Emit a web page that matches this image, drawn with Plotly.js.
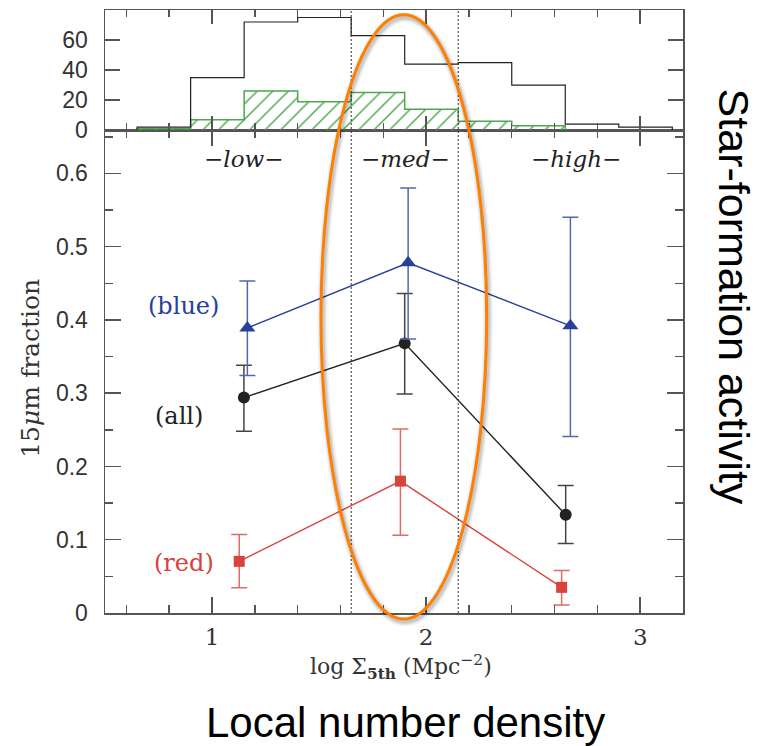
<!DOCTYPE html>
<html>
<head>
<meta charset="utf-8">
<script src="https://cdn.plot.ly/plotly-3.0.1.min.js"></script>
<style>
  html, body { margin: 0; padding: 0; background: #fff; }
  #chart { width: 759px; height: 746px; }
</style>
</head>
<body>
<div id="chart"></div>
<script>
// Histogram of galaxies per density bin (bin edges in log Sigma_5th)
const binEdges = [0.65, 0.90, 1.15, 1.40, 1.65, 1.90, 2.15, 2.40, 2.65, 2.90, 3.15];
const allCounts = [2, 35, 72, 75, 63, 44, 45, 30, 4, 2];
const detectedCounts = [1, 7, 26, 19, 25, 14, 6, 3];

// Density class boundaries and labels
const classEdges = [1.65, 2.15];
const classLabels = ["\u2212low\u2212", "\u2212med\u2212", "\u2212high\u2212"];
const classLabelX = [1.149, 1.905, 2.70];

// 15 micron fractions: x position, value, upper and lower error bounds
const blueX = [1.165, 1.916, 2.674];
const blueY = [0.389, 0.478, 0.392];
const blueHi = [0.453, 0.580, 0.540];
const blueLo = [0.324, 0.374, 0.241];

const allX = [1.149, 1.900, 2.652];
const allY = [0.294, 0.368, 0.134];
const allHi = [0.338, 0.436, 0.174];
const allLo = [0.248, 0.299, 0.095];

const redX = [1.127, 1.880, 2.633];
const redY = [0.0705, 0.180, 0.035];
const redHi = [0.107, 0.251, 0.058];
const redLo = [0.0345, 0.106, 0.011];

// Tick labels
const fracTicks = [0, 0.1, 0.2, 0.3, 0.4, 0.5, 0.6];
const countTicks = [0, 20, 40, 60];
const densityTicks = [1, 2, 3];

const AX = '#555';
const SERIF = 'DejaVu Serif, serif';
const SANS = 'Liberation Sans, Arial, sans-serif';

// step outline helper: starts and ends on the baseline
function stepLine(edges, counts) {
  const xs = [edges[0]], ys = [0];
  for (let i = 0; i < counts.length; i++) { xs.push(edges[i]); ys.push(counts[i]); }
  xs.push(edges[counts.length]); ys.push(0);
  return {x: xs, y: ys};
}

const allStep = stepLine(binEdges, allCounts);
const detStep = stepLine(binEdges, detectedCounts);
const detCenters = detectedCounts.map((_, i) => (binEdges[i] + binEdges[i + 1]) / 2);
const binWidth = binEdges[1] - binEdges[0];

function sub(a, b) { return a.map((v, i) => v - b[i]); }

function series(xs, ys, hi, lo, color, errColor, symbol, size) {
  return {
    type: 'scatter', mode: 'lines+markers', x: xs, y: ys,
    xaxis: 'x', yaxis: 'y',
    line: {color: color, width: 1.4},
    marker: {symbol: symbol, size: size, color: color},
    error_y: {type: 'data', symmetric: false, array: sub(hi, ys), arrayminus: sub(ys, lo),
              color: errColor, thickness: 1.5, width: 8},
    hoverinfo: 'skip', showlegend: false
  };
}

const BLUE = '#27409a', RED = '#d8433b', BLACK = '#222';

const traces = [
  {
    type: 'bar', x: detCenters, y: detectedCounts, width: binWidth,
    xaxis: 'x2', yaxis: 'y2',
    marker: {color: 'rgba(0,0,0,0)', line: {width: 0},
             pattern: {shape: '/', fgcolor: '#4ea64e', bgcolor: 'rgba(0,0,0,0)', size: 11, solidity: 0.13, fgopacity: 1}},
    hoverinfo: 'skip', showlegend: false
  },
  {
    type: 'scatter', mode: 'lines', x: detStep.x, y: detStep.y, xaxis: 'x2', yaxis: 'y2',
    line: {color: '#4ea64e', width: 1.5, shape: 'hv'}, hoverinfo: 'skip', showlegend: false
  },
  {
    type: 'scatter', mode: 'lines', x: allStep.x, y: allStep.y, xaxis: 'x2', yaxis: 'y2',
    line: {color: '#222', width: 1.2, shape: 'hv'}, hoverinfo: 'skip', showlegend: false
  },
  series(redX, redY, redHi, redLo, RED, '#df6a66', 'square', 11),
  series(allX, allY, allHi, allLo, BLACK, '#444', 'circle', 12),
  series(blueX, blueY, blueHi, blueLo, BLUE, '#5468ad', 'triangle-up', 14)
];

const shapes = [];
classEdges.forEach(xv => shapes.push({
  type: 'line', xref: 'x', yref: 'paper', x0: xv, x1: xv, y0: 0, y1: 1,
  line: {color: '#333', width: 1, dash: '2px,2px'}, layer: 'above'
}));
// highlight ellipse around the intermediate-density bin, with a soft shadow
const ell = {x0: 1.509, x1: 2.283, y0: -0.010, y1: 0.992};
[[10, 0.05], [7, 0.07], [4.5, 0.1]].forEach(([w, a]) => shapes.push({
  type: 'circle', xref: 'x', yref: 'paper',
  x0: ell.x0 + 0.006, x1: ell.x1 + 0.006, y0: ell.y0 - 0.004, y1: ell.y1 - 0.004,
  line: {color: 'rgba(0,0,0,' + a + ')', width: w}, layer: 'above'
}));
shapes.push({type: 'circle', xref: 'x', yref: 'paper', x0: ell.x0, x1: ell.x1, y0: ell.y0, y1: ell.y1,
  line: {color: '#ff7f00', width: 3}, layer: 'above'});

const annotations = [];
classLabels.forEach((t, i) => annotations.push({
  text: t, x: classLabelX[i], y: 0.619, xref: 'x', yref: 'y', showarrow: false,
  font: {family: SERIF, size: 23, color: '#222', style: 'italic'}
}));
[['(blue)', 0.868, 0.419, BLUE], ['(all)', 0.845, 0.2685, '#222'], ['(red)', 0.868, 0.0683, RED]].forEach(([t, x, y, c]) =>
  annotations.push({text: t, x: x, y: y, xref: 'x', yref: 'y', showarrow: false,
    font: {family: SERIF, size: 24, color: c}}));
annotations.push({text: '15<i>\u03bc</i>m fraction', xref: 'paper', yref: 'paper', x: -0.128, y: 0.405,
  textangle: -90, showarrow: false, xanchor: 'center', yanchor: 'middle', font: {family: SERIF, size: 25, color: '#333'}});
annotations.push({text: 'log \u03a3<sub><b>5th</b></sub> (Mpc<sup>\u22122</sup>)', xref: 'paper', yref: 'paper',
  x: 0.512, y: -0.0896, showarrow: false, xanchor: 'center', yanchor: 'middle', font: {family: SERIF, size: 22, color: '#333'}});
annotations.push({text: 'Local number density', xref: 'paper', yref: 'paper', x: 0.52, y: -0.181,
  showarrow: false, xanchor: 'center', yanchor: 'middle', font: {family: SANS, size: 42, color: '#000'}});
annotations.push({text: 'Star-formation activity', xref: 'paper', yref: 'paper', x: 1.089, y: 0.524,
  textangle: 90, showarrow: false, xanchor: 'center', yanchor: 'middle', font: {family: SANS, size: 43, color: '#000'}});

const axisBase = {
  showline: true, linecolor: AX, linewidth: 1.5, mirror: 'ticks', ticks: 'inside',
  tickcolor: AX, tickwidth: 1.5, showgrid: false, zeroline: false, fixedrange: true
};

const layout = {
  width: 759, height: 746,
  margin: {l: 105, r: 76, t: 10, b: 133},
  paper_bgcolor: '#fff', plot_bgcolor: '#fff',
  showlegend: false,
  xaxis: Object.assign({}, axisBase, {
    domain: [0, 1], anchor: 'y', range: [0.5, 3.2], tickmode: 'array', tickvals: densityTicks,
    ticklen: 16, ticklabelstandoff: 3,
    minor: {ticks: 'inside', dtick: 0.2, tick0: 0, ticklen: 8, tickwidth: 1.5, tickcolor: AX},
    tickfont: {family: SERIF, size: 23, color: '#333'}
  }),
  yaxis: Object.assign({}, axisBase, {
    domain: [0, 0.8007], anchor: 'x', range: [0, 0.659], tickmode: 'array', tickvals: fracTicks,
    ticktext: fracTicks.map(String), ticklen: 16, ticklabelstandoff: 11,
    minor: {ticks: 'inside', dtick: 0.05, tick0: 0, ticklen: 8, tickwidth: 1.5, tickcolor: AX},
    tickfont: {family: SANS, size: 23, color: '#333'}
  }),
  xaxis2: Object.assign({}, axisBase, {
    domain: [0, 1], anchor: 'y2', range: [0.5, 3.2], tickmode: 'array', tickvals: densityTicks,
    ticklen: 14, showticklabels: false,
    minor: {ticks: 'inside', dtick: 0.2, tick0: 0, ticklen: 7, tickwidth: 1.5, tickcolor: AX}
  }),
  yaxis2: Object.assign({}, axisBase, {
    domain: [0.8007, 1], anchor: 'x2', range: [0, 80], tickmode: 'array', tickvals: countTicks,
    ticklen: 15, ticklabelstandoff: 11,
    tickfont: {family: SANS, size: 23, color: '#333'}
  }),
  bargap: 0,
  shapes: shapes,
  annotations: annotations
};

Plotly.newPlot('chart', traces, layout, {staticPlot: true, displayModeBar: false});
</script>
</body>
</html>
